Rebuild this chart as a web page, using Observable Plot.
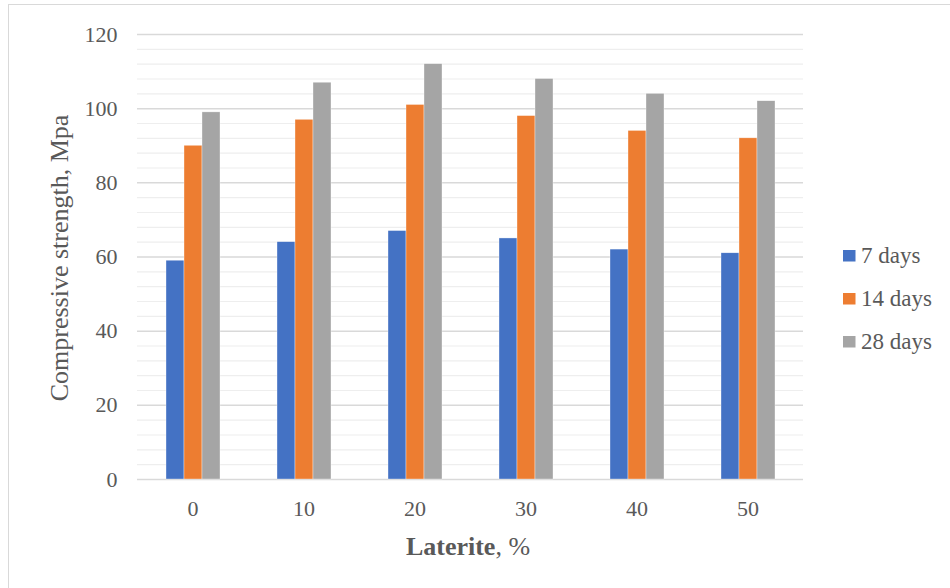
<!DOCTYPE html>
<html>
<head>
<meta charset="utf-8">
<script src="https://cdn.jsdelivr.net/npm/d3@7"></script>
<script src="https://cdn.jsdelivr.net/npm/@observablehq/plot@0.6"></script>
<style>
  html, body { margin: 0; padding: 0; background: #fff; }
  #chart { position: relative; width: 950px; height: 588px; overflow: hidden; background: #fff; }
  #frame { position: absolute; left: 8px; top: 4px; width: 1000px; height: 1000px;
           border: 1.5px solid #d9d9d9; box-sizing: border-box; }
  #chart svg { position: absolute; left: 0; top: 0; }
</style>
</head>
<body>
<div id="chart">
  <div id="frame"></div>
</div>
<script>
// Laterite replacement levels (%) and curing ages
const laterite = ["0", "10", "20", "30", "40", "50"];
const ages = ["7 days", "14 days", "28 days"];

// Compressive strength (MPa) per curing age
const strength7 = [59, 64, 67, 65, 62, 61];
const strength14 = [90, 97, 101, 98, 94, 92];
const strength28 = [99, 107, 112, 108, 104, 102];

const ageColors = ["#4472C4", "#ED7D31", "#A5A5A5"];

// Axis ticks
const yTicks = [0, 20, 40, 60, 80, 100, 120];
const yMinorTicks = [4, 8, 12, 16, 24, 28, 32, 36, 44, 48, 52, 56, 64, 68, 72, 76, 84, 88, 92, 96, 104, 108, 112, 116];

const yTitle = "Compressive strength, Mpa";
const xTitleBold = "Laterite";
const xTitleRest = ", %";

const rows = [];
[strength7, strength14, strength28].forEach((vals, i) => {
  vals.forEach((v, j) => rows.push({level: laterite[j], age: ages[i], value: v}));
});

const W = 950, H = 588;
const FONT = "'Liberation Serif', 'Times New Roman', serif";
const INK = "#595959";
const margins = {marginLeft: 137, marginRight: 147, marginTop: 34, marginBottom: 109};
const style = {fontFamily: FONT, fontSize: "22px", color: INK, background: "transparent", overflow: "visible"};

// Background layer: gridlines and axes
const grid = Plot.plot({
  width: W, height: H, ...margins, style,
  x: {type: "band", domain: laterite, padding: 0},
  y: {domain: [0, 120]},
  marks: [
    Plot.ruleY(yMinorTicks, {stroke: "#eeeeee", strokeWidth: 1.2}),
    Plot.ruleY(yTicks, {stroke: "#d9d9d9", strokeWidth: 1.5}),
    Plot.axisY({ticks: yTicks, tickSize: 0, tickPadding: 20, label: null, fill: INK, fontSize: 22}),
    Plot.axisX({tickSize: 0, tickPadding: 21, label: null, fill: INK, fontSize: 22})
  ]
});

// Bar layer: clustered columns, one facet per laterite level
const bars = Plot.plot({
  width: W, height: H, ...margins, style,
  fx: {domain: laterite, paddingInner: 0.5, paddingOuter: 0.25, axis: null, label: null},
  x: {domain: ages, padding: 0, axis: null},
  y: {domain: [0, 120], axis: null},
  color: {domain: ages, range: ageColors},
  marks: [
    Plot.barY(rows, {fx: "level", x: "age", y: "value", fill: "age", stroke: "#ffffff", strokeWidth: 0.5, strokeOpacity: 0.7})
  ]
});

const chart = document.getElementById("chart");
chart.appendChild(grid);
chart.appendChild(bars);

// Titles and legend
const overlay = d3.select(chart).append("svg")
  .attr("width", W).attr("height", H)
  .style("font-family", FONT).style("fill", INK);

overlay.append("text")
  .attr("transform", "translate(68,258) rotate(-90)")
  .attr("text-anchor", "middle")
  .style("font-size", "26px")
  .text(yTitle);

const xt = overlay.append("text")
  .attr("x", 468).attr("y", 555)
  .attr("text-anchor", "middle")
  .style("font-size", "26px");
xt.append("tspan").style("font-weight", "bold").text(xTitleBold);
xt.append("tspan").text(xTitleRest);

const legendBaselines = [263, 306, 349];
ages.forEach((a, i) => {
  const g = overlay.append("g").attr("transform", `translate(843,${legendBaselines[i]})`);
  g.append("rect").attr("x", 0).attr("y", -13).attr("width", 12.5).attr("height", 11.5).attr("fill", ageColors[i]);
  g.append("text").attr("x", 18).attr("y", 0).style("font-size", "23px").text(a);
});
</script>
</body>
</html>
